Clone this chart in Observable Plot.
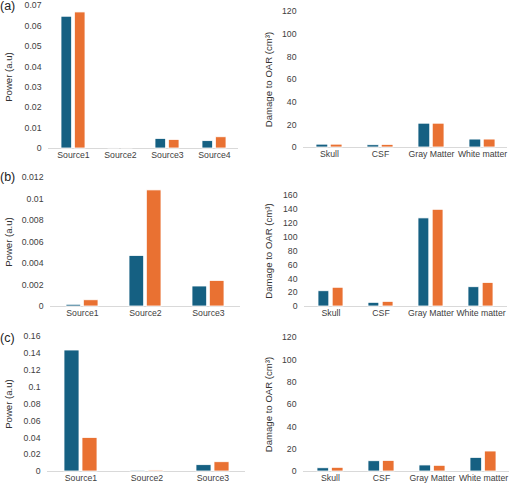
<!DOCTYPE html>
<html>
<head>
<meta charset="utf-8">
<script src="https://cdn.jsdelivr.net/npm/d3@7"></script>
<script src="https://cdn.jsdelivr.net/npm/@observablehq/plot@0.6"></script>
<style>
  html, body { margin: 0; padding: 0; background: #fff; }
  #root { position: relative; width: 509px; height: 485px; overflow: hidden; font-family: "Liberation Sans", Arial, sans-serif; }
  .panel { position: absolute; }
  .tag { position: absolute; font-size: 12.5px; color: #222; }
</style>
</head>
<body>
<div id="root"></div>
<script>
// ---- data ----
const seriesNames = ["Series 1", "Series 2"];
const seriesColors = ["#156082", "#E97132"];
const panelTags = ["(a)", "(b)", "(c)"];

const sourcesA = ["Source1", "Source2", "Source3", "Source4"];
const powerA1 = [0.0645, 0.0004, 0.0047, 0.0036];
const powerA2 = [0.0666, 0.0004, 0.0042, 0.0055];

const sourcesB = ["Source1", "Source2", "Source3"];
const powerB1 = [0.00016, 0.0047, 0.00186];
const powerB2 = [0.00058, 0.0108, 0.00238];

const sourcesC = ["Source1", "Source2", "Source3"];
const powerC1 = [0.1434, 0.0011, 0.0075];
const powerC2 = [0.0398, 0.0012, 0.011];

const tissues = ["Skull", "CSF", "Gray Matter", "White matter"];
const damageA1 = [2.5, 2.0, 21, 7.0];
const damageA2 = [2.5, 2.3, 21, 7.0];
const damageB1 = [22, 5.3, 127, 27.8];
const damageB2 = [27, 6.7, 139.4, 34];
const damageC1 = [2.9, 9.2, 5.4, 12.2];
const damageC2 = [3.3, 9.5, 5.1, 17.9];

const ticksPowerA = [0, 0.01, 0.02, 0.03, 0.04, 0.05, 0.06, 0.07];
const ticksPowerB = [0, 0.002, 0.004, 0.006, 0.008, 0.01, 0.012];
const ticksPowerC = [0, 0.02, 0.04, 0.06, 0.08, 0.1, 0.12, 0.14, 0.16];
const ticksDamage120 = [0, 20, 40, 60, 80, 100, 120];
const ticksDamage160 = [0, 20, 40, 60, 80, 100, 120, 140, 160];

const powerLabel = "Power (a.u)";
const damageLabel = "Damage to OAR (cm\u00B3)";

// ---- drawing ----
const root = document.getElementById("root");

function panel(cfg) {
  const rows = cfg.cats.map((c, i) => ({cat: c, v1: cfg.v1[i], v2: cfg.v2[i]}));
  const pi = 0.5, po = 0.25, gap = 3;
  const bw = d3.scaleBand().domain(cfg.cats)
    .range([cfg.ml, cfg.W - cfg.mr]).paddingInner(pi).paddingOuter(po).bandwidth();
  const inset = (bw + gap) / 2;
  const chart = Plot.plot({
    width: cfg.W, height: cfg.H,
    marginLeft: cfg.ml, marginRight: cfg.mr, marginTop: cfg.mt, marginBottom: cfg.mb,
    style: {fontFamily: "'Liberation Sans', Arial, sans-serif", fontSize: "8.7px", color: "#404040", background: "white"},
    x: {domain: cfg.cats, paddingInner: pi, paddingOuter: po, label: null},
    y: {domain: cfg.domain, label: null},
    marks: [
      Plot.ruleY([0], {stroke: "#d9d9d9", strokeWidth: 1}),
      Plot.barY(rows, {x: "cat", y: "v1", fill: seriesColors[0], stroke: "white", strokeWidth: 0.8, insetRight: inset}),
      Plot.barY(rows, {x: "cat", y: "v2", fill: seriesColors[1], stroke: "white", strokeWidth: 0.8, insetLeft: inset}),
      Plot.axisX({tickSize: 0, tickPadding: 3, fontSize: 8.7, label: null}),
      Plot.axisY({ticks: cfg.ticks, tickSize: 0, tickPadding: 7, tickFormat: d => String(d), fontSize: 8.7, label: null}),
      Plot.axisY({ticks: [], tickSize: 0, fontSize: 9.6, fill: "#333",
                  label: cfg.label, labelAnchor: "center", labelArrow: "none", labelOffset: cfg.lo})
    ]
  });
  chart.classList.add("panel");
  chart.style.left = cfg.left + "px";
  chart.style.top = cfg.top + "px";
  root.appendChild(chart);
}

panel({left: 0, top: 0, W: 252, H: 165, ml: 48, mr: 14, mt: 5, mb: 17,
       cats: sourcesA, v1: powerA1, v2: powerA2, domain: [0, 0.07], ticks: ticksPowerA, label: powerLabel, lo: 43});
panel({left: 255, top: 0, W: 254, H: 165, ml: 48, mr: 2, mt: 11, mb: 18,
       cats: tissues, v1: damageA1, v2: damageA2, domain: [0, 120], ticks: ticksDamage120, label: damageLabel, lo: 38});
panel({left: 0, top: 160, W: 252, H: 165, ml: 50, mr: 12, mt: 17, mb: 19,
       cats: sourcesB, v1: powerB1, v2: powerB2, domain: [0, 0.012], ticks: ticksPowerB, label: powerLabel, lo: 45});
panel({left: 255, top: 160, W: 254, H: 165, ml: 49, mr: 2, mt: 35, mb: 19,
       cats: tissues, v1: damageB1, v2: damageB2, domain: [0, 160], ticks: ticksDamage160, label: damageLabel, lo: 39});
panel({left: 0, top: 320, W: 252, H: 165, ml: 47, mr: 7, mt: 16, mb: 14,
       cats: sourcesC, v1: powerC1, v2: powerC2, domain: [0, 0.16], ticks: ticksPowerC, label: powerLabel, lo: 42});
panel({left: 255, top: 320, W: 254, H: 165, ml: 48, mr: 0, mt: 17, mb: 14,
       cats: tissues, v1: damageC1, v2: damageC2, domain: [0, 120], ticks: ticksDamage120, label: damageLabel, lo: 38});

const tagTops = [-1, 170, 331];
panelTags.forEach((t, i) => {
  const d = document.createElement("div");
  d.className = "tag";
  d.textContent = t;
  d.style.left = "0px";
  d.style.top = tagTops[i] + "px";
  root.appendChild(d);
});
</script>
</body>
</html>
